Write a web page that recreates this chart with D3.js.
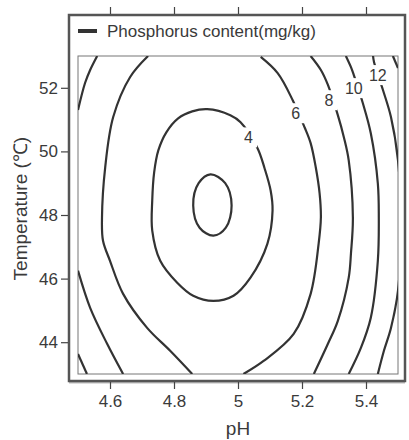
<!DOCTYPE html>
<html>
<head>
<meta charset="utf-8">
<script src="https://cdn.jsdelivr.net/npm/d3@7"></script>
<style>
    html, body { margin: 0; padding: 0; background: #fff; }
    svg { display: block; font-family: "Liberation Sans", Arial, sans-serif; }
</style>
</head>
<body>
<div id="chart"></div>
<script>
// axis ticks
const xTicks = [4.6, 4.8, 5, 5.2, 5.4];
const yTicks = [44, 46, 48, 50, 52];

// contour lines, [pH, temperature]
const contour2 = [[4.914, 49.28], [4.960, 49.0], [4.980, 48.3], [4.962, 47.6], [4.923, 47.35], [4.880, 47.6], [4.860, 48.3], [4.877, 49.0]];
const contour4 = [[4.904, 51.33], [4.976, 51.14], [5.008, 50.92], [5.061, 50.10], [5.083, 49.47], [5.102, 48.77], [5.108, 48.14],
    [5.092, 47.10], [5.039, 46.03], [4.986, 45.46], [4.923, 45.30], [4.860, 45.46], [4.810, 45.87], [4.757, 46.56],
    [4.732, 47.51], [4.732, 48.46], [4.738, 49.34], [4.751, 50.03], [4.776, 50.60], [4.813, 51.04], [4.857, 51.26]];
const contour6Left = [[4.719, 53.00], [4.663, 52.34], [4.610, 51.08], [4.585, 49.50], [4.575, 47.92], [4.578, 47.20],
    [4.600, 46.56], [4.641, 45.52], [4.716, 44.45], [4.788, 43.73], [4.857, 43.00]];
const contour6Right = [[5.071, 52.97], [5.124, 52.46], [5.171, 51.61], [5.208, 50.76], [5.227, 50.26], [5.243, 49.50],
    [5.255, 48.68], [5.259, 47.92], [5.252, 47.10], [5.227, 45.52], [5.174, 44.26], [5.080, 43.41], [5.017, 43.00]];
const contour8TopLeft = [[4.560, 53.00], [4.538, 52.56], [4.522, 52.15], [4.500, 51.30]];
const contour8BottomLeft = [[4.500, 46.25], [4.538, 45.08], [4.591, 43.95], [4.641, 43.00]];
const contour8Right = [[5.227, 53.00], [5.259, 52.56], [5.281, 52.09], [5.312, 51.14], [5.331, 50.44], [5.346, 49.72],
    [5.359, 47.92], [5.353, 46.79], [5.346, 46.03], [5.312, 44.67], [5.281, 43.95], [5.237, 43.00]];
const contour10Left = [[4.500, 43.63], [4.528, 43.00]];
const contour10Right = [[5.337, 53.00], [5.353, 52.65], [5.362, 52.40], [5.390, 51.52], [5.415, 50.57], [5.437, 48.99],
    [5.440, 47.92], [5.437, 46.56], [5.415, 44.77], [5.384, 43.82], [5.346, 43.00]];
const contour12 = [[5.422, 53.00], [5.425, 52.81], [5.453, 51.93], [5.478, 51.08], [5.500, 49.72], [5.509, 47.67],
    [5.500, 45.62], [5.478, 44.45], [5.456, 43.73], [5.437, 43.00]];
const contour14 = [[5.484, 53.00], [5.500, 52.62]];

// contour labels
const labelText = ['4', '6', '8', '10', '12'];
const labelPH = [5.033, 5.180, 5.284, 5.362, 5.437];
const labelT = [50.44, 51.20, 51.61, 51.99, 52.40];

const segments = [
    { pts: contour2, closed: true },
    { pts: contour4, closed: true },
    { pts: contour6Left }, { pts: contour6Right },
    { pts: contour8TopLeft }, { pts: contour8BottomLeft }, { pts: contour8Right },
    { pts: contour10Left }, { pts: contour10Right },
    { pts: contour12 }, { pts: contour14 }
];

const width = 409, height = 440;
const box = { left: 78, right: 398, top: 56, bottom: 374 };
const frame = { left: 69, right: 405, top: 15, bottom: 381 };
const textColor = '#3a3a3a';
const lineColor = '#333';

const svg = d3.select('#chart').append('svg')
    .attr('width', width)
    .attr('height', height);

const x = d3.scaleLinear().domain([4.5, 5.5]).range([box.left, box.right]);
const y = d3.scaleLinear().domain([43, 53]).range([box.bottom, box.top]);

// outer frame with a light shadow along bottom
svg.append('line')
    .attr('x1', frame.left).attr('x2', frame.right)
    .attr('y1', frame.bottom + 1).attr('y2', frame.bottom + 1)
    .attr('stroke', '#bbb').attr('stroke-width', 3);
svg.append('rect')
    .attr('x', frame.left).attr('y', frame.top)
    .attr('width', frame.right - frame.left)
    .attr('height', frame.bottom - frame.top)
    .attr('fill', 'none')
    .attr('stroke', '#555')
    .attr('stroke-width', 2.5);

// inner plot box
svg.append('rect')
    .attr('x', box.left).attr('y', box.top)
    .attr('width', box.right - box.left)
    .attr('height', box.bottom - box.top)
    .attr('fill', 'none')
    .attr('stroke', '#777')
    .attr('stroke-width', 1);

// legend
svg.append('line')
    .attr('x1', 78).attr('x2', 97)
    .attr('y1', 31).attr('y2', 31)
    .attr('stroke', lineColor).attr('stroke-width', 4);
svg.append('text')
    .attr('x', 107).attr('y', 37)
    .style('fill', textColor)
    .style('font-size', '17px')
    .text('Phosphorus content(mg/kg)');

// axes on the outer frame
const xAxisBottom = d3.axisBottom(x).tickValues(xTicks).tickSize(7).tickPadding(6)
    .tickFormat(d => d3.format('~g')(d));
const gxb = svg.append('g')
    .attr('transform', 'translate(0,' + (frame.bottom + 1) + ')')
    .call(xAxisBottom);
gxb.select('.domain').remove();
gxb.selectAll('line').attr('stroke', '#444').attr('stroke-width', 1.2);
gxb.selectAll('text').style('fill', textColor).style('font-size', '17px')
    .style('font-family', '"Liberation Sans", Arial, sans-serif');

const xAxisTop = d3.axisTop(x).tickValues(xTicks).tickSize(7).tickFormat('');
const gxt = svg.append('g')
    .attr('transform', 'translate(0,' + (frame.top - 1) + ')')
    .call(xAxisTop);
gxt.select('.domain').remove();
gxt.selectAll('line').attr('stroke', '#444').attr('stroke-width', 1.2);

const yAxis = d3.axisLeft(y).tickValues(yTicks).tickSize(7).tickPadding(3);
const gy = svg.append('g')
    .attr('transform', 'translate(' + (frame.left - 1) + ',0)')
    .call(yAxis);
gy.select('.domain').remove();
gy.selectAll('line').attr('stroke', '#444').attr('stroke-width', 1.2);
gy.selectAll('text').style('fill', textColor).style('font-size', '17px')
    .style('font-family', '"Liberation Sans", Arial, sans-serif');

// axis titles
svg.append('text')
    .attr('x', x(5)).attr('y', 435)
    .attr('text-anchor', 'middle')
    .style('fill', textColor)
    .style('font-size', '19px')
    .text('pH');

svg.append('text')
    .attr('transform', 'translate(27,' + y(48.2) + ') rotate(-90)')
    .attr('text-anchor', 'middle')
    .style('fill', textColor)
    .style('font-size', '19px')
    .text('Temperature (\u2103)');

// contours
svg.append('clipPath').attr('id', 'plotClip')
    .append('rect')
    .attr('x', box.left).attr('y', box.top)
    .attr('width', box.right - box.left)
    .attr('height', box.bottom - box.top);

const plot = svg.append('g').attr('clip-path', 'url(#plotClip)');

const openLine = d3.line().x(d => x(d[0])).y(d => y(d[1])).curve(d3.curveCatmullRom.alpha(0.5));
const closedLine = d3.line().x(d => x(d[0])).y(d => y(d[1])).curve(d3.curveCatmullRomClosed.alpha(0.5));

plot.selectAll('.contour')
    .data(segments)
    .enter()
    .append('path')
    .attr('class', 'contour')
    .attr('d', d => d.closed ? closedLine(d.pts) : openLine(d.pts))
    .attr('fill', 'none')
    .attr('stroke', lineColor)
    .attr('stroke-width', 2.2);

// labels sit on a white patch that breaks the line
const labels = plot.selectAll('.clabel')
    .data(labelText.map((t, i) => ({ t: t, ph: labelPH[i], temp: labelT[i] })))
    .enter()
    .append('g')
    .attr('class', 'clabel')
    .attr('transform', d => 'translate(' + x(d.ph) + ',' + y(d.temp) + ')');

labels.append('rect')
    .attr('x', d => -d.t.length * 4.5 - 4)
    .attr('y', -10)
    .attr('width', d => d.t.length * 9 + 8)
    .attr('height', 20)
    .attr('fill', '#fff');

labels.append('text')
    .attr('text-anchor', 'middle')
    .attr('y', 6)
    .style('fill', textColor)
    .style('font-size', '16px')
    .text(d => d.t);
</script>
</body>
</html>
